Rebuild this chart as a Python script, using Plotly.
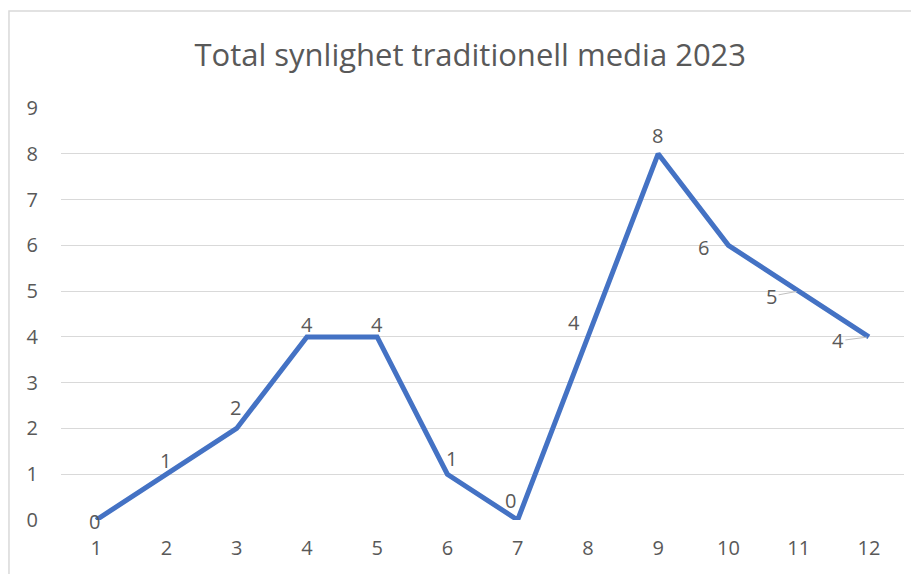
import plotly.graph_objects as go

months = [1, 2, 3, 4, 5, 6, 7, 8, 9, 10, 11, 12]
values = [0, 1, 2, 4, 4, 1, 0, 4, 8, 6, 5, 4]
title_text = "Total synlighet traditionell media 2023"

# label offsets (pixels) per point, styling only
label_dx = [-2, -1, -1, 0, 0, 4, -7, -14, -1, -25, -27, -31]
label_dy = [1, -14, -21, -12, -12, -16, -20, -14, -18, 2, 5, 4]
leader = [False] * 10 + [True, True]

GRAY = "#595959"
LINE = "#4472C4"
FONT = "Open Sans"
FS = 20

fig = go.Figure()
fig.add_trace(go.Scatter(
    x=months, y=values, mode="lines",
    line=dict(color=LINE, width=5),
    hoverinfo="skip", showlegend=False,
))

for m, v, dx, dy, ld in zip(months, values, label_dx, label_dy, leader):
    if ld:
        fig.add_annotation(x=m, y=v, xref="x", yref="y", text=str(v),
                           showarrow=True, arrowhead=0, arrowwidth=1,
                           arrowcolor="#bfbfbf", ax=dx, ay=dy, standoff=2,
                           font=dict(family=FONT, size=FS, color=GRAY))
    else:
        fig.add_annotation(x=m, y=v, xref="x", yref="y", text=str(v),
                           showarrow=False, xshift=dx, yshift=-dy,
                           font=dict(family=FONT, size=FS, color=GRAY))

fig.add_shape(type="rect", xref="paper", yref="paper",
              x0=-0.0617, x1=1.0166, y0=-0.16, y1=1.2354,
              line=dict(color="#d9d9d9", width=1.5), layer="below")

fig.update_layout(
    width=919, height=574,
    margin=dict(l=53, r=23, t=100, b=62),
    paper_bgcolor="white", plot_bgcolor="white",
    title=dict(text=title_text, x=0.503, xanchor="center", y=0.918, yanchor="middle",
               font=dict(family=FONT, size=31, color=GRAY)),
    xaxis=dict(range=[0.5, 12.5], dtick=1, tick0=1, showgrid=False,
               showline=False, ticks="", zeroline=False,
               ticklabelstandoff=14,
               tickfont=dict(family=FONT, size=FS, color=GRAY)),
    yaxis=dict(range=[0, 9], dtick=1, showgrid=True, gridcolor="#d9d9d9",
               gridwidth=1.3, zeroline=False, showline=False, ticks="",
               ticklabelstandoff=22,
               tickfont=dict(family=FONT, size=FS, color=GRAY)),
    font=dict(family=FONT, color=GRAY),
)

fig.write_html("out.html")
